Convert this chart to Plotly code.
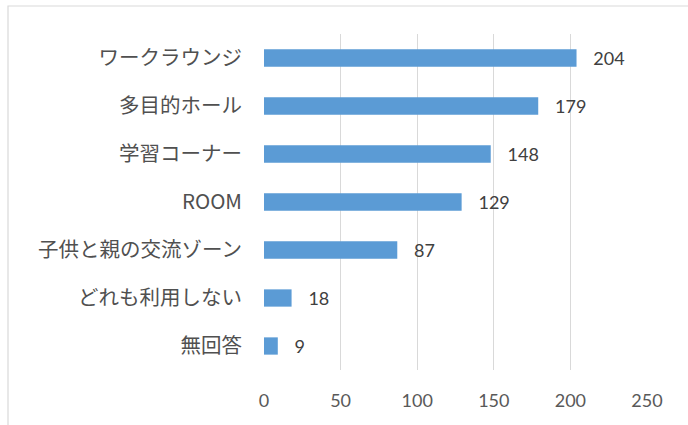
import plotly.graph_objects as go

categories = ["ワークラウンジ", "多目的ホール", "学習コーナー", "ROOM",
              "子供と親の交流ゾーン", "どれも利用しない", "無回答"]
counts = [204, 179, 148, 129, 87, 18, 9]
x_ticks = [0, 50, 100, 150, 200, 250]

W, H = 688, 425
L, R, T, B = 264, 41, 34, 55
pw, ph = W - L - R, H - T - B

fig = go.Figure(go.Bar(
    x=counts[::-1],
    y=categories[::-1],
    orientation="h",
    marker=dict(color="#5B9BD5", line=dict(width=0)),
    text=counts[::-1],
    texttemplate="   %{text}",
    textposition="outside",
    constraintext="none",
    textfont=dict(family="Lato, 'Noto Sans'", size=18, color="#404040"),
    cliponaxis=False,
    width=0.36,
))

# outer chart-area frame
fig.add_shape(type="rect", xref="paper", yref="paper",
              x0=(8 - L) / pw, x1=(W + 10 - L) / pw,
              y0=-(H + 10 - T - ph) / ph, y1=1 + (T - 6) / ph,
              line=dict(color="#D9D9D9", width=1.2), fillcolor="rgba(0,0,0,0)", layer="below")

fig.update_layout(
    width=W, height=H,
    margin=dict(l=L, r=R, t=T, b=B),
    paper_bgcolor="white", plot_bgcolor="white",
    showlegend=False,
    font=dict(family="'Noto Sans CJK JP', 'Noto Sans'", color="#595959"),
    xaxis=dict(range=[0, 250], tickvals=x_ticks, showgrid=True,
               gridcolor="#D9D9D9", gridwidth=1, zeroline=False,
               showline=False, ticks="", ticklabelstandoff=18,
               tickfont=dict(family="Lato, 'Noto Sans'", size=18, color="#595959")),
    yaxis=dict(showgrid=False, zeroline=False, showline=False, ticks="",
               ticklabelstandoff=21,
               tickfont=dict(family="'Noto Sans CJK JP'", size=20.5, color="#505050")),
)

fig.write_html("out.html")
